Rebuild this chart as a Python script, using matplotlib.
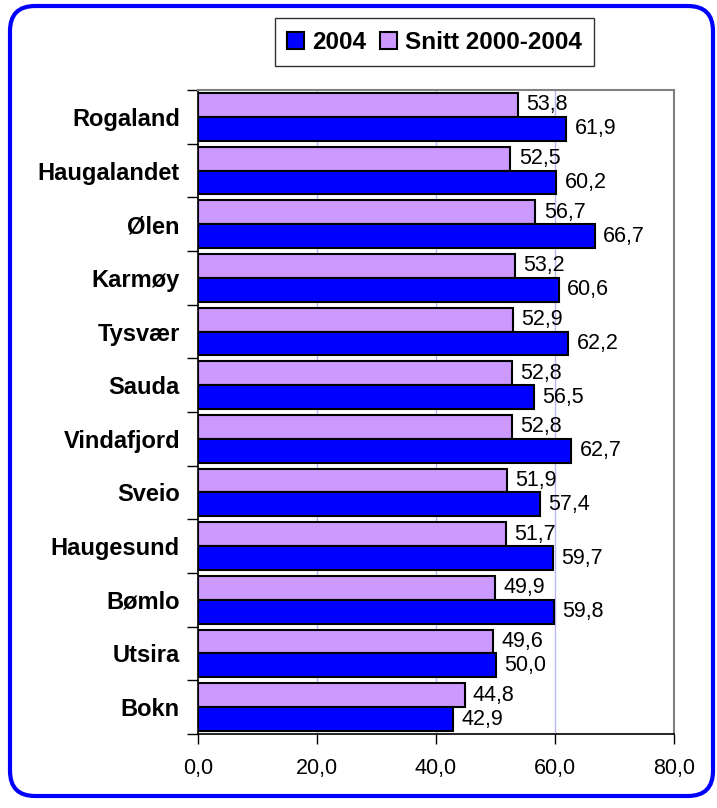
import matplotlib
matplotlib.use("Agg")
import matplotlib.pyplot as plt
from matplotlib.patches import FancyBboxPatch
import numpy as np

plt.rcParams["font.family"] = ["Liberation Sans", "DejaVu Sans"]

kommuner = ["Rogaland", "Haugalandet", "Ølen", "Karmøy", "Tysvær", "Sauda",
            "Vindafjord", "Sveio", "Haugesund", "Bømlo", "Utsira", "Bokn"]
v2004 = [61.9, 60.2, 66.7, 60.6, 62.2, 56.5, 62.7, 57.4, 59.7, 59.8, 50.0, 42.9]
snitt = [53.8, 52.5, 56.7, 53.2, 52.9, 52.8, 52.8, 51.9, 51.7, 49.9, 49.6, 44.8]
xticks = [0, 20, 40, 60, 80]

BLUE = "#0000FF"
LILLA = "#CC99FF"

fig = plt.figure(figsize=(7.17, 8.08), dpi=100)
ax = fig.add_axes([0.2762, 0.0916, 0.6638, 0.797])

y = np.arange(len(kommuner))
h = 0.445
b_snitt = ax.barh(y - h / 2, snitt, height=h, color=LILLA, edgecolor="black",
                  linewidth=1.5, label="Snitt 2000-2004", zorder=3)
b_2004 = ax.barh(y + h / 2, v2004, height=h, color=BLUE, edgecolor="black",
                 linewidth=1.5, label="2004", zorder=3)

fmt = lambda v: f"{v:.1f}".replace(".", ",")
ax.bar_label(b_snitt, labels=[fmt(v) for v in snitt], padding=6, fontsize=15.5)
ax.bar_label(b_2004, labels=[fmt(v) for v in v2004], padding=6, fontsize=15.5)

ax.set_xlim(0, 80)
ax.set_ylim(len(kommuner) - 0.5, -0.5)
ax.set_xticks(xticks)
ax.set_xticklabels([fmt(v) for v in xticks], fontsize=15.5)
ax.tick_params(axis="x", length=7, width=1, pad=10)

ax.set_yticks(y)
ax.set_yticklabels(kommuner, fontsize=17, fontweight="bold")
ax.set_yticks(np.arange(len(kommuner) + 1) - 0.5, minor=True)
ax.tick_params(axis="y", which="major", length=0, pad=13)
ax.tick_params(axis="y", which="minor", length=8, width=1)

for g in xticks[1:-1]:
    ax.axvline(g, color="#B8B8F8", linewidth=1, zorder=1)

for s in ["top", "right"]:
    ax.spines[s].set_color("#808080")
    ax.spines[s].set_linewidth(1.5)
for s in ["left", "bottom"]:
    ax.spines[s].set_color("black")
    ax.spines[s].set_linewidth(1.2)

leg = fig.legend(handles=[b_2004, b_snitt], loc="center",
                 bbox_to_anchor=(0.606, 0.948), ncol=2, frameon=True,
                 fancybox=False, edgecolor="black",
                 prop={"weight": "bold", "size": 17.5},
                 handlelength=0.7, handleheight=0.7, handletextpad=0.3,
                 columnspacing=0.6, borderpad=0.5)
leg.get_frame().set_linewidth(1)

border = FancyBboxPatch((10 / 717, 12 / 808), 703 / 717, 790 / 808,
                        boxstyle="round,pad=0,rounding_size=0.035",
                        transform=fig.transFigure, facecolor="none",
                        edgecolor=BLUE, linewidth=3, mutation_aspect=717 / 808)
fig.patches.append(border)

fig.savefig("out.png", dpi=100)
